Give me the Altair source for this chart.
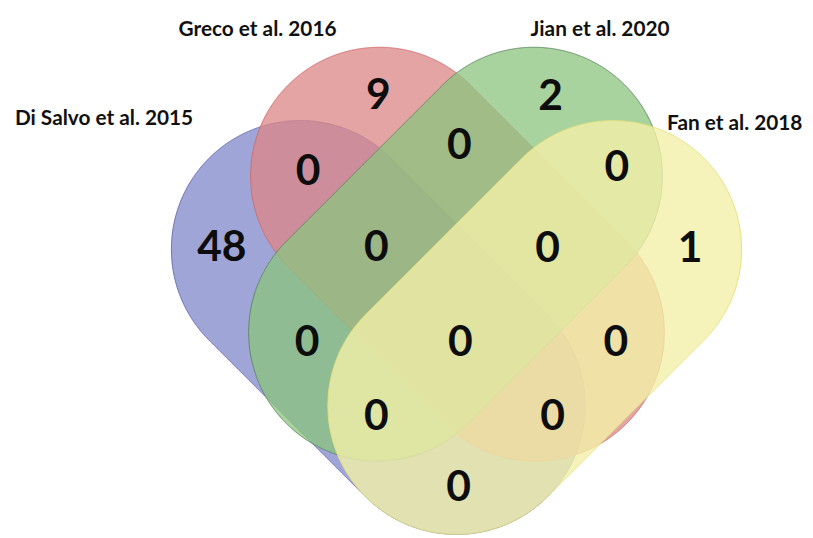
import numpy as np
import pandas as pd
import altair as alt

# ---------------- data ----------------
set_names = ["Di Salvo et al. 2015", "Greco et al. 2016", "Jian et al. 2020", "Fan et al. 2018"]
set_keys = ["A", "B", "C", "D"]
# regions (membership by set key) and their counts
region_members = ["A", "B", "C", "D", "AB", "BC", "CD", "ABC", "BCD",
                  "AC", "ABCD", "BD", "ACD", "ABD", "AD"]
region_counts = [48, 9, 2, 1, 0, 0, 0, 0, 0, 0, 0, 0, 0, 0, 0]

# ---------------- layout / style ----------------
set_fill = ["#8087c9", "#dc8585", "#8bc47d", "#f3f0a8"]
set_stroke = ["#6569a8", "#d06a6a", "#5a8660", "#e2de78"]
set_fill_opacity = [0.75, 0.75, 0.75, 0.8]
CAP_R = 130
# capsule axis end points (page pixel space, y down)
cap_axis = [(303, 249, 461, 407), (383, 175, 541, 333),
            (539, 175, 381, 333), (619, 249, 461, 407)]
set_label_pos = [(105, 118), (260, 28), (606, 28), (742, 123)]
region_label_pos = [(224, 248), (382, 94), (556, 95), (697, 249),
                    (311, 171), (464, 145), (623, 167),
                    (380, 248), (553, 249),
                    (310, 344), (465, 344), (622, 344),
                    (380, 419), (558, 419), (463, 490)]

W, H = 797, 522
xs = alt.Scale(domain=[8, 8 + W], nice=False, zero=False)
ys = alt.Scale(domain=[8, 8 + H], nice=False, zero=False, reverse=True)


def capsule_band(x0, y0, x1, y1, r, n=700, m=1500):
    xmin, xmax = min(x0, x1) - r, max(x0, x1) + r
    xv = np.linspace(xmin, xmax, n)
    t = np.linspace(0, 1, m)
    px = x0 + t * (x1 - x0)
    py = y0 + t * (y1 - y0)
    d = xv[:, None] - px[None, :]
    ok = np.abs(d) <= r
    h = np.sqrt(np.clip(r * r - d * d, 0, None))
    top = np.where(ok, py[None, :] - h, np.inf).min(axis=1)
    bot = np.where(ok, py[None, :] + h, -np.inf).max(axis=1)
    return pd.DataFrame({"x": xv, "ylo": top, "yhi": bot})


layers = []
for i, name in enumerate(set_names):
    df = capsule_band(*cap_axis[i], CAP_R)
    df["set"] = name
    layers.append(
        alt.Chart(df).mark_area(
            fill=set_fill[i], fillOpacity=set_fill_opacity[i],
            stroke=set_stroke[i], strokeWidth=1, strokeOpacity=0.9
        ).encode(
            x=alt.X("x:Q", scale=xs, axis=None),
            y=alt.Y("ylo:Q", scale=ys, axis=None),
            y2="yhi:Q",
        )
    )

counts_df = pd.DataFrame({
    "region": region_members,
    "count": [str(c) for c in region_counts],
    "x": [p[0] for p in region_label_pos],
    "y": [p[1] for p in region_label_pos],
})
counts_layer = alt.Chart(counts_df).mark_text(
    font="Lato", fontWeight="bold", fontSize=43, color="#0d0d0d",
    align="center", baseline="middle"
).encode(
    x=alt.X("x:Q", scale=xs, axis=None),
    y=alt.Y("y:Q", scale=ys, axis=None),
    text="count:N",
)

names_df = pd.DataFrame({
    "name": set_names,
    "x": [p[0] for p in set_label_pos],
    "y": [p[1] for p in set_label_pos],
})
names_layer = alt.Chart(names_df).mark_text(
    font="Lato", fontWeight="bold", fontSize=21, color="#111111",
    align="center", baseline="middle"
).encode(
    x=alt.X("x:Q", scale=xs, axis=None),
    y=alt.Y("y:Q", scale=ys, axis=None),
    text="name:N",
)

chart = alt.layer(*layers, counts_layer, names_layer).properties(
    width=W, height=H,
    padding={"left": 0, "top": 0, "right": 8, "bottom": 8},
    autosize=alt.AutoSizeParams(type="none"),
    background="white",
).configure_view(stroke=None)

chart.save("out.html", embed_options={"renderer": "svg", "actions": False})
